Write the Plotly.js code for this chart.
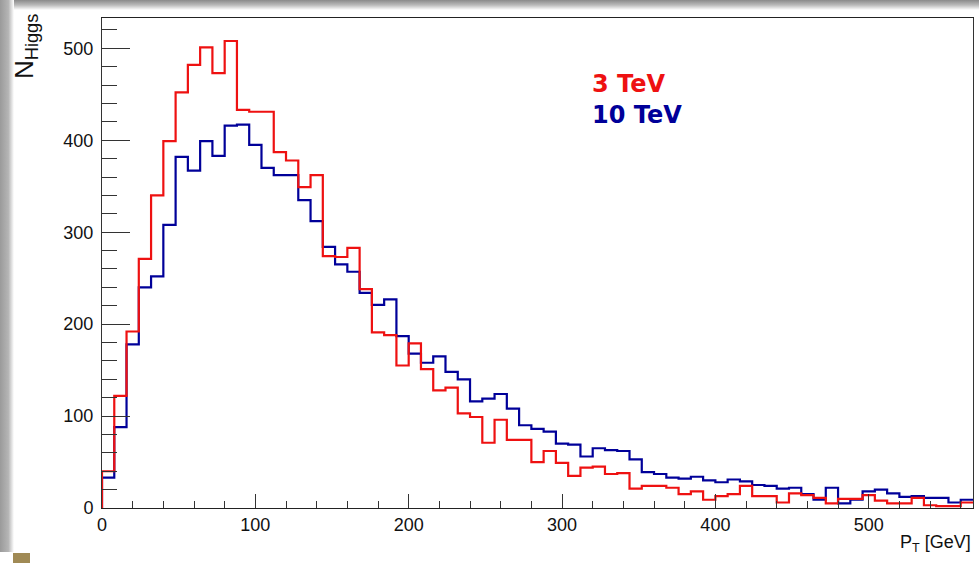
<!DOCTYPE html>
<html>
<head>
<meta charset="utf-8">
<script src="https://cdn.plot.ly/plotly-3.0.1.min.js"></script>
<style>
  html, body { margin: 0; padding: 0; background: #ffffff; }
  #wrap { position: relative; width: 979px; height: 563px; overflow: hidden; background: #ffffff; }
  #topband { position: absolute; left: 0; top: 0; width: 979px; height: 10px;
    background: linear-gradient(to bottom, #8a8a8a 0%, #b9b9b9 50%, #ffffff 100%); }
  #leftband { position: absolute; left: 0; top: 0; width: 14px; height: 552px;
    background: linear-gradient(to right, #9a9a9a 0%, #b5b5b5 60%, #ffffff 100%); }
  #corner { position: absolute; left: 13px; top: 553px; width: 17px; height: 10px; background: #a08a55; }
  #plot { position: absolute; left: 0; top: 0; width: 979px; height: 563px; }
</style>
</head>
<body>
<div id="wrap">
  <div id="topband"></div>
  <div id="leftband"></div>
  <div id="corner"></div>
  <div id="plot"></div>
</div>
<script>
// Histogram: Higgs pT, bin width 8 GeV starting at 0
const binWidth = 8;
const xMax = 568;
const series3TeV = [40,122,192,271,340,399,452,482,501,473,508,433,431,431,387,378,349,362,274,273,
  283,238,191,188,155,179,151,128,131,103,99,71,96,74,74,50,62,49,35,44,
  45,37,38,21,24,24,22,15,18,9,13,15,24,13,13,6,16,14,11,5,
  10,10,14,8,5,5,11,3,2,2,6];
const series10TeV = [33,88,178,240,252,308,382,367,399,383,416,417,395,370,362,362,335,312,284,265,
  257,234,221,227,187,168,158,165,148,140,116,119,124,108,90,86,83,70,69,56,
  65,63,62,53,39,37,33,32,34,30,28,31,29,25,24,21,22,15,9,22,
  5,9,18,20,16,12,13,11,11,6,9];
const label3 = "3 TeV";
const label10 = "10 TeV";
const xTickVals = [0,100,200,300,400,500];
const yTickVals = [0,100,200,300,400,500];

function stepTrace(vals, color, name) {
  const x = [0];
  const y = [0];
  for (let i = 0; i < vals.length; i++) { x.push(i * binWidth); y.push(vals[i]); }
  x.push(vals.length * binWidth); y.push(vals[vals.length - 1]);
  return { x: x, y: y, type: 'scatter', mode: 'lines', name: name,
    line: { shape: 'hv', color: color, width: 2.2 }, hoverinfo: 'skip' };
}

const red = '#ee1111';
const blue = '#000099';
const data = [stepTrace(series10TeV, blue, label10), stepTrace(series3TeV, red, label3)];

const font = "Liberation Sans, Arial, Helvetica, sans-serif";
const legendFont = "DejaVu Sans, Liberation Sans, Arial, sans-serif";
const layout = {
  width: 979, height: 563,
  margin: { l: 102, r: 6, t: 18, b: 55 },
  paper_bgcolor: 'rgba(0,0,0,0)', plot_bgcolor: '#ffffff',
  showlegend: false,
  font: { family: font, color: '#111111', size: 18 },
  xaxis: {
    range: [0, xMax], tickvals: xTickVals, ticks: 'inside', ticklen: 14, tickwidth: 1, tickcolor: '#333',
    showgrid: false, zeroline: false, showline: true, linecolor: '#222', linewidth: 1, mirror: true,
    minor: { dtick: 20, ticks: 'inside', ticklen: 7, tickcolor: '#333', showgrid: false },
    tickfont: { family: font, size: 18, color: '#111' }
  },
  yaxis: {
    range: [0, 533], tickvals: yTickVals, ticks: 'inside', ticklen: 28, tickwidth: 1, tickcolor: '#333',
    showgrid: false, zeroline: false, showline: true, linecolor: '#333', linewidth: 1, mirror: true,
    minor: { dtick: 20, ticks: 'inside', ticklen: 15, tickcolor: '#333', showgrid: false },
    tickfont: { family: font, size: 18, color: '#111' }, ticklabelstandoff: 4
  },
  annotations: [
    { xref: 'paper', yref: 'paper', x: 0.5603, y: 0.866, xanchor: 'left', yanchor: 'middle', showarrow: false,
      text: '<b>' + label3 + '</b>', font: { family: legendFont, size: 24, color: red } },
    { xref: 'paper', yref: 'paper', x: 0.5603, y: 0.802, xanchor: 'left', yanchor: 'middle', showarrow: false,
      text: '<b>' + label10 + '</b>', font: { family: legendFont, size: 24, color: blue } },
    { xref: 'paper', yref: 'paper', x: 1.0, y: -0.045, xanchor: 'right', yanchor: 'top', showarrow: false,
      text: 'P<sub>T</sub> [GeV]', font: { family: font, size: 18, color: '#111' } },
    { xref: 'paper', yref: 'paper', x: -0.088, y: 1.012, xanchor: 'center', yanchor: 'top', showarrow: false,
      textangle: -90, text: 'N<sub>Higgs</sub>', font: { family: font, size: 26, color: '#111' } }
  ]
};

Plotly.newPlot('plot', data, layout, { displayModeBar: false, staticPlot: true });
</script>
</body>
</html>
